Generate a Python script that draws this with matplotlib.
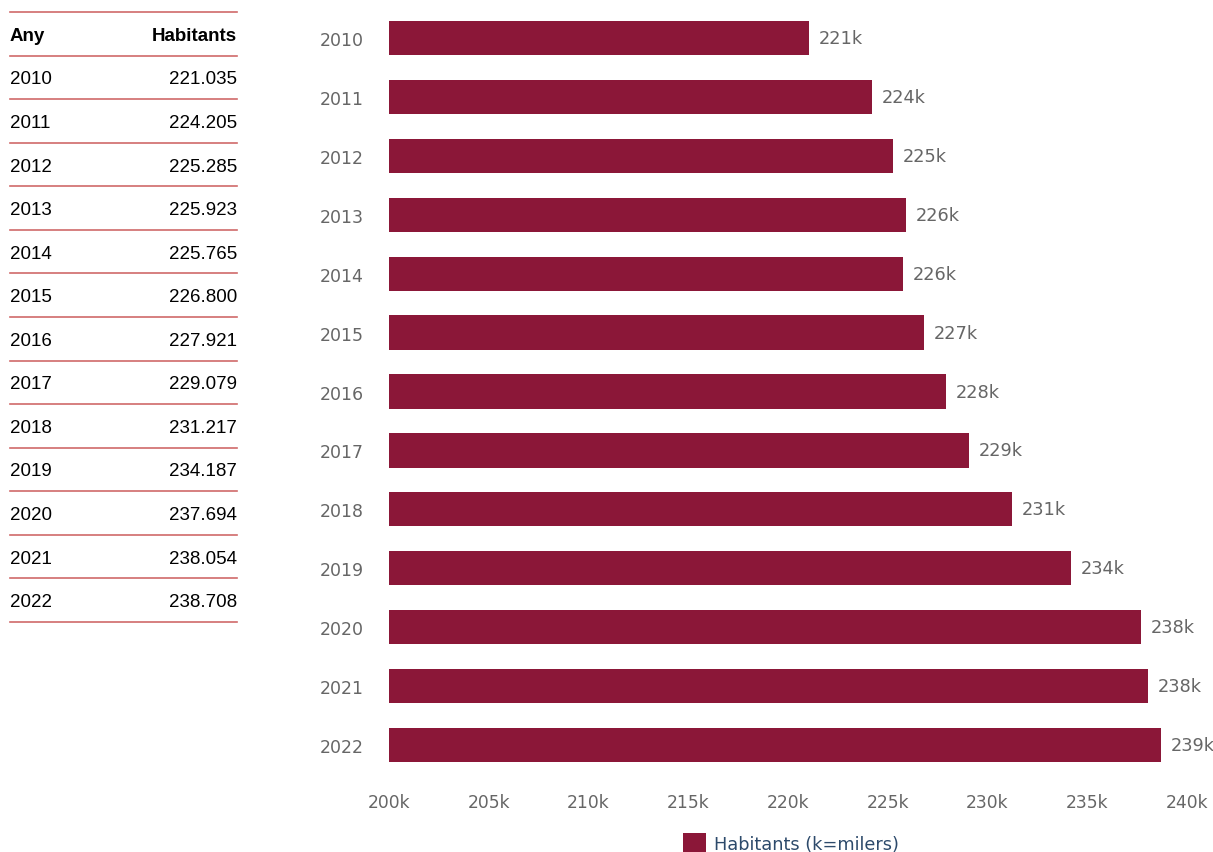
import matplotlib
matplotlib.use("Agg")
import matplotlib.pyplot as plt
from matplotlib.lines import Line2D

years = [2010, 2011, 2012, 2013, 2014, 2015, 2016, 2017, 2018, 2019, 2020, 2021, 2022]
population = [221035, 224205, 225285, 225923, 225765, 226800, 227921, 229079,
              231217, 234187, 237694, 238054, 238708]
table_header = ["Any", "Habitants"]
series_label = "Habitants (k=milers)"
x_ticks = [200000, 205000, 210000, 215000, 220000, 225000, 230000, 235000, 240000]

W, H = 1213, 853
fig = plt.figure(figsize=(W / 100, H / 100), dpi=100)

bar_color = "#8b1738"
grey = "#666666"

ax = fig.add_axes([389 / W, 1 - 775.5 / H, (1187 - 389) / W, (775.5 - 9.5) / H])
pos = list(range(len(years)))
bars = ax.barh(pos, population, height=0.58, color=bar_color, label=series_label)
ax.set_xlim(200000, 240000)
ax.set_ylim(len(years) - 0.5, -0.5)
ax.set_yticks(pos)
ax.set_yticklabels([str(y) for y in years])
ax.set_xticks(x_ticks)
ax.set_xticklabels([f"{int(v/1000)}k" for v in x_ticks])
ax.tick_params(axis="y", length=0, pad=18, labelsize=12.5, labelcolor=grey)
ax.tick_params(axis="x", length=0, pad=13, labelsize=12.3, labelcolor=grey)
for s in ax.spines.values():
    s.set_visible(False)
for b, v in zip(bars, population):
    ax.annotate(f"{round(v/1000)}k", (b.get_width(), b.get_y() + b.get_height() / 2),
                xytext=(7, 0), textcoords="offset points", va="center", ha="left",
                fontsize=12.8, color=grey, annotation_clip=False)

leg = fig.legend(handles=[bars], labels=[series_label], loc="center",
                 bbox_to_anchor=(791 / W, 1 - 844 / H), frameon=False,
                 handlelength=1.3, handleheight=1.3, handletextpad=0.5, fontsize=12.8)
for t in leg.get_texts():
    t.set_color("#2d4a6b")

# Table on the left
x0, x1 = 10 / W, 237 / W
line_y0 = 13
step = (623 - 13) / 14
line_color = "#d06a6a"
for i in range(15):
    yy = 1 - (line_y0 + i * step) / H
    fig.add_artist(Line2D([x0, x1], [yy, yy], color=line_color, lw=1.2))
tfont = ["Liberation Sans", "DejaVu Sans"]
hy = 1 - (line_y0 + step / 2 + 1.5) / H
fig.text(x0, hy, table_header[0], ha="left", va="center", fontsize=13.5,
         fontweight="bold", family=tfont, color="black")
fig.text(x1, hy, table_header[1], ha="right", va="center", fontsize=13.5,
         fontweight="bold", family=tfont, color="black")
for i, (yr, v) in enumerate(zip(years, population)):
    yy = 1 - (line_y0 + (i + 1.5) * step + 1.5) / H
    fig.text(x0, yy, str(yr), ha="left", va="center", fontsize=13.5, family=tfont, color="black")
    s = f"{v:,}".replace(",", ".")
    fig.text(x1, yy, s, ha="right", va="center", fontsize=13.5, family=tfont, color="black")

fig.savefig("out.png", dpi=100)
